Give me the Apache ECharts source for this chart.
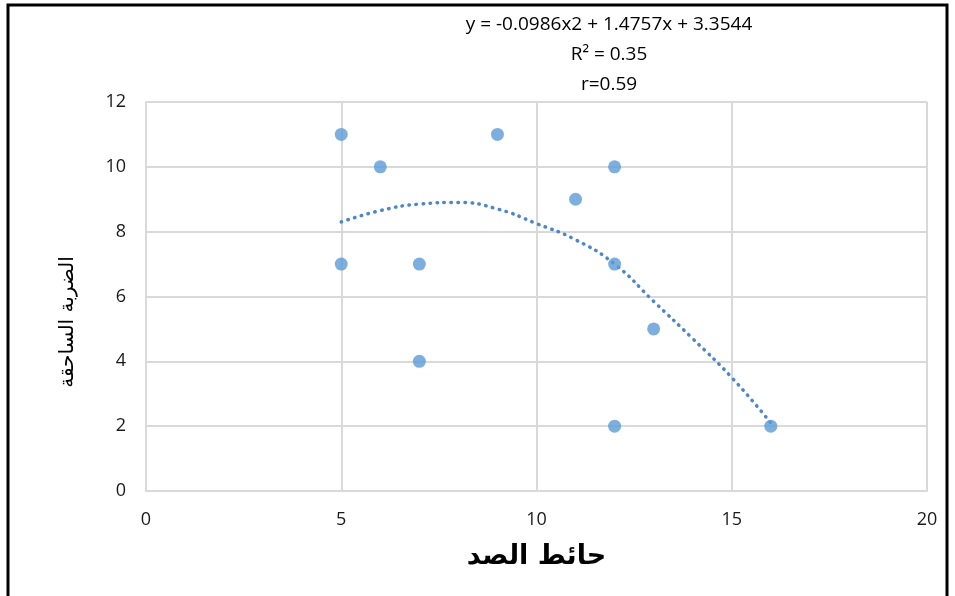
<!DOCTYPE html>
<html>
<head>
<meta charset="utf-8">
<script src="https://cdn.jsdelivr.net/npm/echarts@6/dist/echarts.min.js"></script>
<style>html,body{margin:0;padding:0;background:#fff}#c{width:955px;height:596px}</style>
</head>
<body>
<div id="c"></div>
<script>
// Observed points (حائط الصد, الضربة الساحقة)
const xValues = [5, 6, 9, 12, 11, 5, 7, 12, 13, 7, 12, 16];
const yValues = [11, 10, 11, 10, 9, 7, 7, 7, 5, 4, 2, 2];
// Trendline
const trendX = [5, 6, 7, 8, 9, 10, 11, 12, 13, 14, 15, 16];
const trendY = [8.3, 8.65, 8.85, 8.9, 8.7, 8.25, 7.75, 7.0, 5.85, 4.7, 3.5, 2.1];
const xTicks = [0, 5, 10, 15, 20];
const yTicks = [0, 2, 4, 6, 8, 10, 12];
const equationLines = ['y = -0.0986x2 + 1.4757x + 3.3544', 'R² = 0.35', 'r=0.59'];
const xTitle = 'حائط الصد';
const yTitle = 'الضربة الساحقة';

const chart = echarts.init(document.getElementById('c'));
const font = '"Open Sans", "Liberation Sans", sans-serif';
const arFont = '"DejaVu Sans", "Noto Sans", sans-serif';
chart.setOption({
  animation: false,
  backgroundColor: '#fff',
  grid: {left: 146, right: 28, top: 102, bottom: 105},
  xAxis: {
    type: 'value', min: xTicks[0], max: xTicks[xTicks.length - 1], interval: 5,
    axisLine: {show: true, lineStyle: {color: '#d9d9d9', width: 2}},
    axisTick: {show: false},
    splitLine: {show: true, lineStyle: {color: '#d9d9d9', width: 2}},
    axisLabel: {color: '#1a1a1a', fontSize: 18, fontFamily: font, margin: 20},
    name: xTitle, nameLocation: 'middle', nameGap: 52,
    nameTextStyle: {color: '#000', fontSize: 27, fontWeight: 'bold', fontFamily: arFont}
  },
  yAxis: {
    type: 'value', min: yTicks[0], max: yTicks[yTicks.length - 1], interval: 2,
    axisLine: {show: true, lineStyle: {color: '#d9d9d9', width: 2}},
    axisTick: {show: false},
    splitLine: {show: true, lineStyle: {color: '#d9d9d9', width: 2}},
    axisLabel: {color: '#1a1a1a', fontSize: 18, fontFamily: font, margin: 20}
  },
  series: [
    {
      type: 'line', data: trendX.map((x, i) => [x, trendY[i]]), smooth: true,
      showSymbol: false, z: 3,
      lineStyle: {color: '#4f86c6', width: 3.5, type: [0.5, 6.5], cap: 'round'}
    },
    {
      type: 'scatter', data: xValues.map((x, i) => [x, yValues[i]]),
      symbolSize: 13, z: 4,
      itemStyle: {color: '#5b9bd5'}
    }
  ],
  graphic: [
    {type: 'rect', shape: {x: 8, y: 5, width: 939, height: 620}, style: {fill: 'none', stroke: '#000', lineWidth: 3}, silent: true},
    {type: 'text', x: 68, y: 322, rotation: Math.PI / 2,
      style: {text: yTitle, fill: '#000', fontSize: 20, fontFamily: arFont, align: 'center', verticalAlign: 'middle'}},
    ...equationLines.map((t, i) => ({
      type: 'text', x: 609, y: 25 + i * 30,
      style: {text: t, fill: '#000', fontSize: 19, fontFamily: font, align: 'center', verticalAlign: 'middle'}
    }))
  ]
});
</script>
</body>
</html>
